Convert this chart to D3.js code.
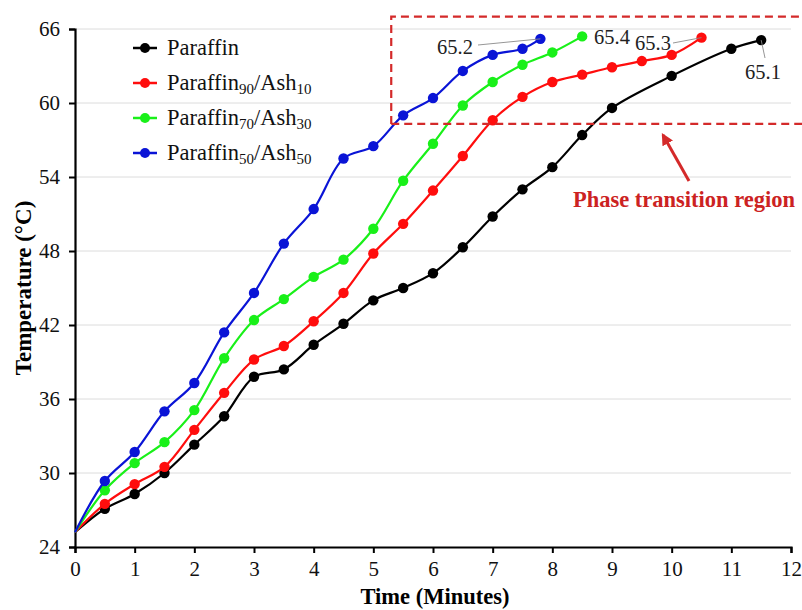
<!DOCTYPE html>
<html>
<head>
<meta charset="utf-8">
<script src="https://cdn.jsdelivr.net/npm/d3@7"></script>
<style>
  html, body { margin: 0; padding: 0; background: #fff; }
  svg { display: block; }
</style>
</head>
<body>
<svg id="chart" width="802" height="610"></svg>
<script>
// Heating curves: temperature versus time for paraffin and paraffin/ash blends
const seriesNames = ["Paraffin", "Paraffin90/Ash10", "Paraffin70/Ash30", "Paraffin50/Ash50"];
const seriesColors = ["#000000", "#ff0d0d", "#19f019", "#0a14d6"];

const timeParaffin = [0, 0.5, 1, 1.5, 2, 2.5, 3, 3.5, 4, 4.5, 5, 5.5, 6, 6.5, 7, 7.5, 8, 8.5, 9, 10, 11, 11.5];
const tempParaffin = [25.2, 27.1, 28.3, 30.0, 32.3, 34.6, 37.8, 38.4, 40.4, 42.1, 44.0, 45.0, 46.2, 48.3, 50.8, 53.0, 54.8, 57.4, 59.6, 62.2, 64.4, 65.1];

const timeAsh10 = [0, 0.5, 1, 1.5, 2, 2.5, 3, 3.5, 4, 4.5, 5, 5.5, 6, 6.5, 7, 7.5, 8, 8.5, 9, 9.5, 10, 10.5];
const tempAsh10 = [25.2, 27.5, 29.1, 30.5, 33.5, 36.5, 39.2, 40.3, 42.3, 44.6, 47.8, 50.2, 52.9, 55.7, 58.6, 60.5, 61.7, 62.3, 62.9, 63.4, 63.9, 65.3];

const timeAsh30 = [0, 0.5, 1, 1.5, 2, 2.5, 3, 3.5, 4, 4.5, 5, 5.5, 6, 6.5, 7, 7.5, 8, 8.5];
const tempAsh30 = [25.2, 28.6, 30.8, 32.5, 35.1, 39.3, 42.4, 44.1, 45.9, 47.3, 49.8, 53.7, 56.7, 59.8, 61.7, 63.1, 64.1, 65.4];

const timeAsh50 = [0, 0.5, 1, 1.5, 2, 2.5, 3, 3.5, 4, 4.5, 5, 5.5, 6, 6.5, 7, 7.5, 7.8];
const tempAsh50 = [25.2, 29.35, 31.7, 35.0, 37.3, 41.4, 44.6, 48.6, 51.4, 55.5, 56.5, 59.0, 60.4, 62.6, 63.9, 64.4, 65.2];

const xTicks = [0, 1, 2, 3, 4, 5, 6, 7, 8, 9, 10, 11, 12];
const yTicks = [24, 30, 36, 42, 48, 54, 60, 66];

// Legend labels: [base, subscript, base, subscript]
const legendParts = [
  ["Paraffin"],
  ["Paraffin", "90", "/Ash", "10"],
  ["Paraffin", "70", "/Ash", "30"],
  ["Paraffin", "50", "/Ash", "50"]
];

const series = [
  { t: timeParaffin, v: tempParaffin },
  { t: timeAsh10, v: tempAsh10 },
  { t: timeAsh30, v: tempAsh30 },
  { t: timeAsh50, v: tempAsh50 }
].map((s, i) => ({
  name: seriesNames[i],
  color: seriesColors[i],
  points: s.t.map((t, j) => ({ t, v: s.v[j] }))
}));

const svg = d3.select("#chart");
const serif = "'Liberation Serif', 'Times New Roman', serif";
const margin = { left: 75, right: 11, top: 29, bottom: 63 };
const W = 802, H = 610;

const x = d3.scaleLinear().domain([0, 12]).range([margin.left, W - margin.right]);
const y = d3.scaleLinear().domain([24, 66]).range([H - margin.bottom, margin.top]);

// Horizontal gridlines
svg.append("g")
  .selectAll("line")
  .data(yTicks.filter(d => d > 24))
  .join("line")
  .attr("x1", x(0)).attr("x2", x(12))
  .attr("y1", d => y(d)).attr("y2", d => y(d))
  .attr("stroke", "#dcdcdc").attr("stroke-width", 1);

// Axes
const xAxis = svg.append("g")
  .attr("transform", `translate(0,${y(24)})`)
  .call(d3.axisBottom(x).tickValues(xTicks).tickSize(6).tickPadding(8).tickFormat(d3.format("d")));
const yAxis = svg.append("g")
  .attr("transform", `translate(${x(0)},0)`)
  .call(d3.axisLeft(y).tickValues(yTicks).tickSize(6).tickPadding(9).tickFormat(d3.format("d")));

[xAxis, yAxis].forEach(a => {
  a.attr("font-family", serif).attr("font-size", 21);
  a.select(".domain").attr("stroke", "#000").attr("stroke-width", 2.2);
  a.selectAll(".tick line").attr("stroke", "#000").attr("stroke-width", 2);
  a.selectAll(".tick text").attr("font-family", serif).attr("font-size", 21).attr("fill", "#111");
});

// Axis titles
svg.append("text")
  .attr("x", 435).attr("y", 604)
  .attr("text-anchor", "middle")
  .attr("font-family", serif).attr("font-weight", "bold").attr("font-size", 22.5)
  .text("Time (Minutes)");
svg.append("text")
  .attr("transform", `translate(31,${288}) rotate(-90)`)
  .attr("text-anchor", "middle")
  .attr("font-family", serif).attr("font-weight", "bold").attr("font-size", 23)
  .text("Temperature (°C)");

// Smoothed curves with markers
const line = d3.line()
  .x(d => x(d.t)).y(d => y(d.v))
  .curve(d3.curveCatmullRom.alpha(0.5));

const gSeries = svg.append("g");
series.forEach(s => {
  gSeries.append("path")
    .attr("d", line(s.points))
    .attr("fill", "none")
    .attr("stroke", s.color)
    .attr("stroke-width", 2.2);
  gSeries.append("g")
    .selectAll("circle")
    .data(s.points.slice(1))
    .join("circle")
    .attr("cx", d => x(d.t)).attr("cy", d => y(d.v))
    .attr("r", 5.2)
    .attr("fill", s.color);
});

// Final-value labels with leader lines
const last = s => s.points[s.points.length - 1];
const endLabels = [
  { s: series[3], tx: 455, ty: 54, lx1: 478, ly1: 45 },
  { s: series[2], tx: 612, ty: 44, lx1: null },
  { s: series[1], tx: 653, ty: 50, lx1: 673, ly1: 43 },
  { s: series[0], tx: 763, ty: 79, lx1: 765, ly1: 58 }
];
endLabels.forEach(l => {
  const p = last(l.s);
  if (l.lx1 !== null) {
    svg.append("line")
      .attr("x1", l.lx1).attr("y1", l.ly1)
      .attr("x2", x(p.t)).attr("y2", y(p.v))
      .attr("stroke", "#8a8a8a").attr("stroke-width", 0.9);
  }
  svg.append("text")
    .attr("x", l.tx).attr("y", l.ty)
    .attr("text-anchor", "middle")
    .attr("font-family", serif).attr("font-size", 20.5).attr("fill", "#222")
    .text(d3.format(".1f")(p.v));
});

// Phase transition region box and callout
const boxColor = "#d42a2a";
svg.append("path")
  .attr("d", `M${x(5.3)},${y(58.3)} L${x(5.3)},${y(67)} L${W + 5},${y(67)} M${x(5.3)},${y(58.3)} L${W + 5},${y(58.3)}`)
  .attr("fill", "none")
  .attr("stroke", boxColor).attr("stroke-width", 2.2)
  .attr("stroke-dasharray", "8,5");

svg.append("defs").append("marker")
  .attr("id", "arrowhead")
  .attr("viewBox", "0 0 10 10").attr("refX", 8).attr("refY", 5)
  .attr("markerWidth", 4).attr("markerHeight", 4)
  .attr("orient", "auto")
  .append("path").attr("d", "M0,0 L10,5 L0,10 Z").attr("fill", boxColor);

svg.append("line")
  .attr("x1", 689).attr("y1", 181).attr("x2", 663).attr("y2", 135)
  .attr("stroke", boxColor).attr("stroke-width", 3)
  .attr("marker-end", "url(#arrowhead)");

svg.append("text")
  .attr("x", 684).attr("y", 207)
  .attr("text-anchor", "middle")
  .attr("font-family", serif).attr("font-weight", "bold").attr("font-size", 22.5)
  .attr("fill", "#cc2222")
  .text("Phase transition region");

// Legend
const legend = svg.append("g");
legendParts.forEach((parts, i) => {
  const cy = 48 + i * 35;
  legend.append("line")
    .attr("x1", 133).attr("x2", 157).attr("y1", cy).attr("y2", cy)
    .attr("stroke", seriesColors[i]).attr("stroke-width", 2.5);
  legend.append("circle")
    .attr("cx", 145).attr("cy", cy).attr("r", 5)
    .attr("fill", seriesColors[i]);
  const txt = legend.append("text")
    .attr("x", 167).attr("y", cy + 7)
    .attr("font-family", serif).attr("font-size", 22.5).attr("fill", "#111");
  parts.forEach((p, k) => {
    const sub = k % 2 === 1;
    txt.append("tspan")
      .attr("font-size", sub ? 15 : 22.5)
      .attr("dy", sub ? 4 : (k > 0 ? -4 : 0))
      .text(p);
  });
});
</script>
</body>
</html>
